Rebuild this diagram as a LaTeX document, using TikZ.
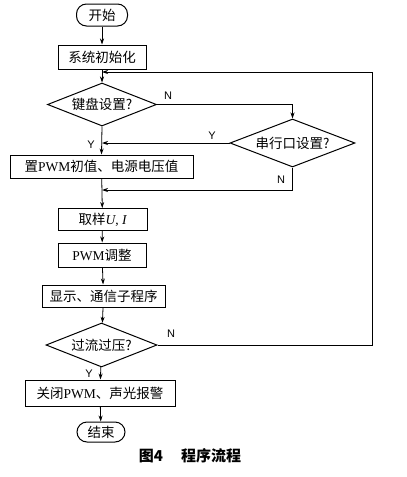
\documentclass[tikz,border=0pt]{standalone}
\usepackage{fontspec}
\setmainfont{Liberation Serif}
\newfontfamily\cjk{Noto Sans CJK SC}
\newfontfamily\lab{Liberation Sans}
\usetikzlibrary{shapes.geometric,arrows.meta}
\begin{document}
\begin{tikzpicture}[x=1pt,y=-1pt,
  every node/.style={font=\fontsize{13.5}{15}\selectfont\cjk, inner sep=0pt},
  proc/.style={draw, line width=1pt, minimum height=24pt},
  term/.style={draw, line width=1pt, rounded corners=10pt, minimum height=22pt},
  dec/.style={draw, line width=1pt, diamond, inner sep=0pt},
  lbl/.style={font=\fontsize{11}{12}\selectfont\lab},
  conn/.style={line width=0.8pt},
  arr/.style={conn, -{Stealth[length=6pt,width=4pt]}}
]
\useasboundingbox (0,0) rectangle (407,477);

\node[term, minimum width=51pt] (start) at (102,15) {开始};
\node[proc, minimum width=88pt] (init) at (102,57) {系统初始化};
\node[dec, minimum width=109pt, minimum height=43pt, aspect=2.53] (d1) at (102,104.5) {键盘设置?};
\node[dec, minimum width=125pt, minimum height=48pt, aspect=2.6] (d2) at (292.5,143) {串行口设置?};
\node[proc, minimum width=183pt, minimum height=23pt] (b3) at (101.5,166.5) {置{\rmfamily PWM}初值、电源电压值};
\node[proc, minimum width=89pt, minimum height=22pt] (b4) at (102.5,219.5) {取样{\rmfamily\itshape U}{\rmfamily,}{\rmfamily\itshape\ I}};
\node[proc, minimum width=88pt] (b5) at (102,255) {{\rmfamily PWM}调整};
\node[proc, minimum width=123pt, minimum height=22pt] (b6) at (103.5,296) {显示、通信子程序};
\node[dec, minimum width=111pt, minimum height=44pt, aspect=2.52] (d3) at (101.5,345) {过流过压?};
\node[proc, minimum width=150pt, minimum height=26pt] (b7) at (100,393) {关闭{\rmfamily PWM}、声光报警};
\node[term, minimum width=48pt, minimum height=20pt] (end) at (101,432) {结束};
\node[font=\fontsize{15}{17}\selectfont\cjk\bfseries] (cap) at (190,456) {图4\hspace{1.2em}程序流程};

\coordinate (j0) at (102,72);
\coordinate (j1) at (102,143);
\coordinate (j2) at (102,190);
\coordinate (r1) at (292.5,104.5);
\coordinate (r2) at (292.5,190);
\coordinate (lp1) at (372,345);
\coordinate (lp2) at (372,72);

\draw[arr] (start) -- (init);
\draw[arr] (init) -- (d1);
\draw[arr] (lp2) -- (j0);
\draw[conn] (d3.east) -- (lp1) -- (lp2);
\draw[conn] (d1.east) -- (r1);
\draw[arr] (r1) -- (d2.north);
\draw[arr] (d1.south) -- (b3.north);
\draw[arr] (d2.west) -- (j1);
\draw[conn] (d2.south) -- (r2);
\draw[arr] (r2) -- (j2);
\draw[arr] (b3) -- (b4);
\draw[arr] (b4) -- (b5);
\draw[arr] (b5) -- (b6);
\draw[arr] (b6) -- (d3);
\draw[arr] (d3) -- (b7);
\draw[arr] (b7) -- (end);

\node[lbl] at (168,96) {N};
\node[lbl] at (212,136) {Y};
\node[lbl] at (91,145) {Y};
\node[lbl] at (281,180) {N};
\node[lbl] at (171,334) {N};
\node[lbl] at (89,374) {Y};
\end{tikzpicture}
\end{document}
